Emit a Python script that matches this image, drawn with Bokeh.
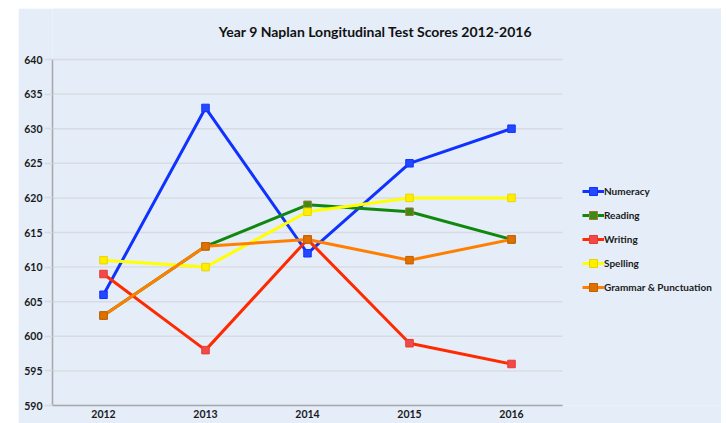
from bokeh.plotting import figure
from bokeh.models import (Legend, LegendItem, Spacer, FixedTicker, Range1d,
                          Label)
from bokeh.layouts import row, column
from bokeh.embed import file_html
from bokeh.resources import INLINE

title_text = "Year 9 Naplan Longitudinal Test Scores 2012-2016"
years = ["2012", "2013", "2014", "2015", "2016"]
numeracy = [606, 633, 612, 625, 630]
reading = [603, 613, 619, 618, 614]
writing = [609, 598, 614, 599, 596]
spelling = [611, 610, 618, 620, 620]
grammar = [603, 613, 614, 611, 614]
y_ticks = [590, 595, 600, 605, 610, 615, 620, 625, 630, 635, 640]

series = [
    ("Numeracy", numeracy, "#0f32ff", "#2448ff", "#0f32ff"),
    ("Reading", reading, "#10880e", "#3e8a14", "#9a7a30"),
    ("Writing", writing, "#ff2a00", "#f04a48", "#e83a30"),
    ("Spelling", spelling, "#ffff00", "#ffee00", "#e8d400"),
    ("Grammar & Punctuation", grammar, "#ff8000", "#e07000", "#c06000"),
]

BG = "#e4edf8"
FONT = "Lato"
GRID = "#d8dce2"

# layout in pixels
W, H = 703, 415
LEFT, BOTTOM = 34, 18
CAT_W = 102                       # pixels per category
frame_w = W - LEFT
frame_h = H - BOTTOM
y_lo, y_hi = y_ticks[0], y_ticks[-1]
px_per_unit = 346 / (y_hi - y_lo)

n = len(years)
xs = [i + 0.5 for i in range(n)]          # category centres

p = figure(x_range=Range1d(0, frame_w / CAT_W),
           y_range=Range1d(y_lo, y_lo + frame_h / px_per_unit),
           width=W, height=H,
           output_backend="svg", toolbar_location=None,
           min_border_left=LEFT, min_border_right=0, min_border_top=0,
           min_border_bottom=BOTTOM)
p.background_fill_color = BG
p.border_fill_color = BG
p.outline_line_color = None

# title as a label centred above the plot area
p.add_layout(Label(x=(375 - 52) / CAT_W, y=y_hi + 28 / px_per_unit,
                   text=title_text, text_align="center",
                   text_baseline="middle", text_font=FONT,
                   text_font_size="14px", text_font_style="bold",
                   text_color="#111111"))

# horizontal gridlines limited to the category area
p.xgrid.grid_line_color = None
p.ygrid.grid_line_color = None
p.segment(x0=[0] * len(y_ticks), x1=[n] * len(y_ticks), y0=y_ticks,
          y1=y_ticks, line_color=GRID, line_width=1.5, level="underlay")

p.yaxis.ticker = FixedTicker(ticks=y_ticks)
p.yaxis.bounds = (y_lo, y_hi)
p.xaxis.ticker = FixedTicker(ticks=xs)
p.xaxis.major_label_overrides = {x: y for x, y in zip(xs, years)}
p.xaxis.bounds = (0, n)
for ax in (p.xaxis, p.yaxis):
    ax.axis_line_color = "#a8a8a8"
    ax.axis_line_width = 1.5
    ax.major_label_text_font = FONT
    ax.major_label_text_font_style = "bold"
    ax.major_label_text_font_size = "10.5px"
    ax.major_label_text_color = "#1a1a1a"
    ax.minor_tick_line_color = None
p.yaxis.major_tick_line_color = GRID
p.yaxis.major_tick_line_width = 1.5
p.yaxis.major_tick_out = 8
p.yaxis.major_tick_in = 0
p.yaxis.major_label_standoff = 2
p.xaxis.major_tick_line_color = None
p.xaxis.major_tick_out = 0
p.xaxis.major_tick_in = 0
p.xaxis.major_label_standoff = 4

items = []
for name, vals, lc, mf, ml in series:
    r1 = p.line(xs, vals, line_color=lc, line_width=3)
    r2 = p.scatter(xs, vals, marker="square", size=7.5, fill_color=mf,
                   line_color=ml, line_width=1)
    items.append(LegendItem(label=name, renderers=[r1, r2]))

legend = Legend(items=items, location=(530, 108), padding=0, margin=0,
                spacing=4, glyph_width=22, glyph_height=20, label_height=20,
                label_standoff=0, label_text_font=FONT,
                label_text_font_style="bold", label_text_font_size="10px",
                label_text_color="#1a1a1a", background_fill_alpha=0,
                border_line_color=None)
p.add_layout(legend, "center")

layout = column(Spacer(width=10, height=8),
                row(Spacer(width=18, height=H), p))
open("out.html", "w").write(file_html(layout, INLINE))
